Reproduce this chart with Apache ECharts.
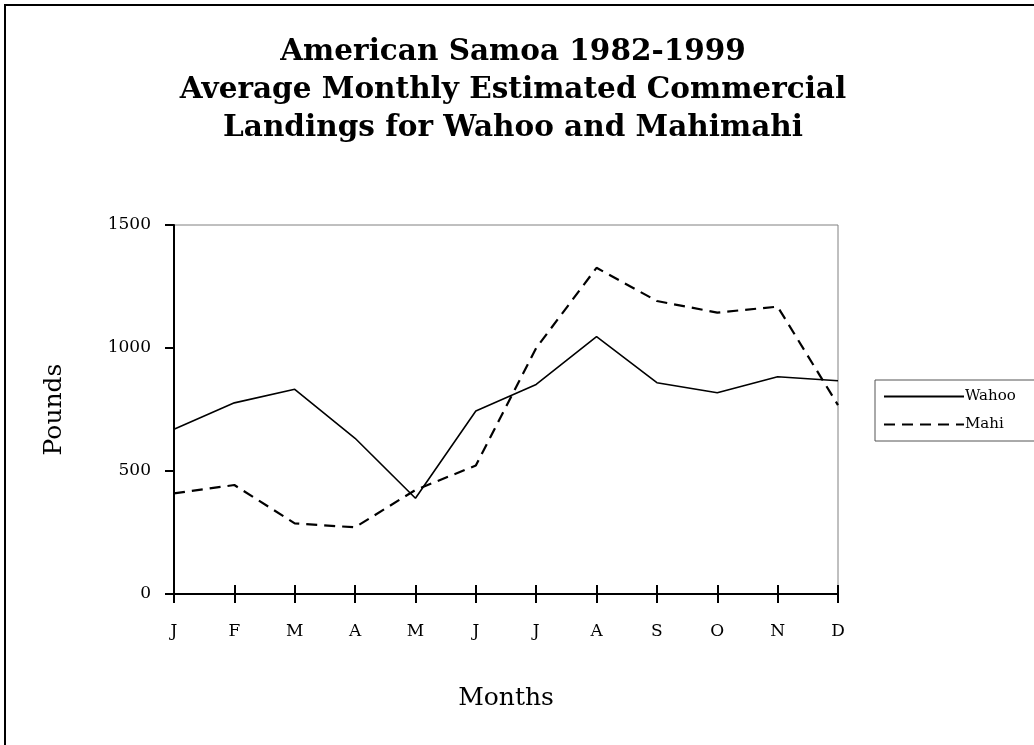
<!DOCTYPE html>
<html><head><meta charset="utf-8">
<script src="https://cdn.jsdelivr.net/npm/echarts@6/dist/echarts.min.js"></script>
<style>html,body{margin:0;padding:0;background:#fff}#c{width:1034px;height:745px}</style>
</head><body><div id="c"></div>
<script>
const months = ['J','F','M','A','M','J','J','A','S','O','N','D'];
const wahoo = [670, 777, 832, 633, 389, 744, 852, 1046, 859, 818, 883, 867];
const mahi = [409, 443, 287, 271, 423, 522, 1000, 1326, 1191, 1144, 1168, 768];
const yTicks = [0, 500, 1000, 1500];

const serif = '"DejaVu Serif", "Liberation Serif", serif';
const chart = echarts.init(document.getElementById('c'));
chart.setOption({
  animation: false,
  backgroundColor: '#fff',
  title: {
    text: 'American Samoa 1982-1999\nAverage Monthly Estimated Commercial\nLandings for Wahoo and Mahimahi',
    left: 508, top: 28, textAlign: 'center',
    textStyle: { fontFamily: serif, fontWeight: 'bold', fontSize: 29.5, lineHeight: 38, color: '#000' }
  },
  legend: {
    orient: 'vertical', left: 875, top: 380,
    itemWidth: 80, itemHeight: 14, itemGap: 13,
    padding: [9, 80, 9, 8],
    borderColor: '#555', borderWidth: 1, backgroundColor: '#fff',
    itemStyle: { opacity: 0 },
    textStyle: { fontFamily: serif, fontSize: 15, color: '#000', padding: [0,0,0,-4] },
    data: ['Wahoo', 'Mahi']
  },
  graphic: [{
    type: 'rect', shape: { x: 5, y: 5, width: 1100, height: 800 },
    style: { fill: 'none', stroke: '#000', lineWidth: 2 }, silent: true, z: -10
  }],
  grid: { left: 174, right: 196, top: 225, bottom: 151, show: true, borderColor: '#808080', borderWidth: 1, backgroundColor: '#fff' },
  xAxis: [{
    type: 'category', data: months, boundaryGap: false,
    axisLine: { lineStyle: { color: '#000', width: 2 } },
    axisTick: { show: true, length: 9, lineStyle: { color: '#000', width: 2 } },
    axisLabel: { fontFamily: serif, fontSize: 17, color: '#000', margin: 29 },
    name: 'Months', nameLocation: 'middle', nameGap: 92,
    nameTextStyle: { fontFamily: serif, fontSize: 25, color: '#000' },
    splitLine: { show: false }
  }, {
    type: 'category', data: months, boundaryGap: false, position: 'bottom',
    axisLine: { show: false },
    axisTick: { show: true, inside: true, length: 9, lineStyle: { color: '#000', width: 2 } },
    axisLabel: { show: false }, splitLine: { show: false }
  }],
  yAxis: {
    type: 'value', min: 0, max: 1500, interval: 500,
    axisLine: { show: true, lineStyle: { color: '#000', width: 2 } },
    axisTick: { show: true, length: 9, lineStyle: { color: '#000', width: 2 } },
    axisLabel: { fontFamily: serif, fontSize: 17, color: '#000', margin: 23,
      formatter: v => yTicks.includes(v) ? String(v) : '' },
    splitLine: { show: false },
    name: 'Pounds', nameLocation: 'middle', nameGap: 107, nameRotate: 90,
    nameTextStyle: { fontFamily: serif, fontSize: 25, color: '#000' }
  },
  series: [{
    name: 'Wahoo', type: 'line', data: wahoo, symbol: 'none',
    lineStyle: { color: '#000', width: 1.6, type: 'solid' }, itemStyle: { color: '#000' }
  }, {
    name: 'Mahi', type: 'line', data: mahi, symbol: 'none',
    lineStyle: { color: '#000', width: 2.2, type: [11, 7] }, itemStyle: { color: '#000' }
  }]
});
</script></body></html>
